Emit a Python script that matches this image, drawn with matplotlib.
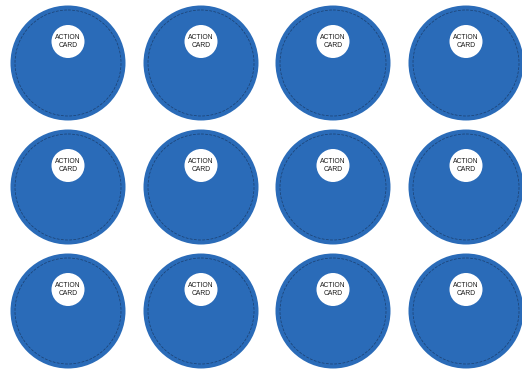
import matplotlib
matplotlib.use("Agg")
import matplotlib.pyplot as plt
from matplotlib.patches import Circle

# grid of action-card tokens (pixel-space centres)
col_x = [68, 201, 333, 466]
row_y = [63, 187, 311]
label = "ACTION\nCARD"

R_OUT = 57.5
R_DASH = 53
R_HOLE = 16.5
HOLE_DY = -21.5
BLUE = "#2A6BB8"

fig = plt.figure(figsize=(5.22, 3.72), dpi=100)
ax = fig.add_axes([0, 0, 1, 1])
ax.set_xlim(0, 522)
ax.set_ylim(372, 0)
ax.axis("off")

for cy in row_y:
    for cx in col_x:
        ax.add_patch(Circle((cx, cy), R_OUT, facecolor=BLUE, edgecolor="none"))
        ax.add_patch(Circle((cx, cy), R_DASH, facecolor="none", edgecolor="#1b3f6e",
                            lw=0.5, ls=(0, (4, 2))))
        ax.add_patch(Circle((cx, cy + HOLE_DY), R_HOLE, facecolor="white", edgecolor="none"))
        ax.text(cx, cy + HOLE_DY, label, ha="center", va="center", fontsize=4.9,
                color="#1a1a1a", family="Liberation Sans", linespacing=1.3)

fig.savefig("out.png", dpi=100)
